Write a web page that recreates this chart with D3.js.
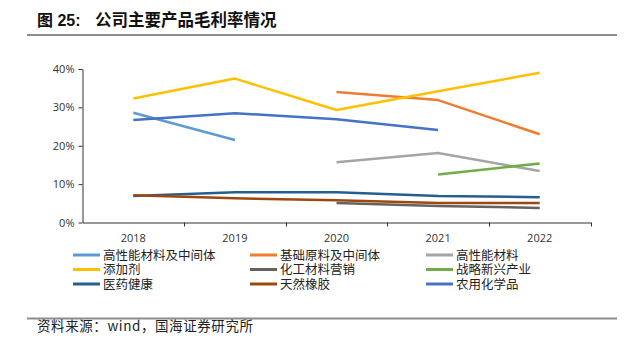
<!DOCTYPE html>
<html>
<head>
<meta charset="utf-8">
<script src="https://cdn.jsdelivr.net/npm/d3@7"></script>
<style>
  body { margin: 0; background: #fff; }
  svg { display: block; }
</style>
</head>
<body>
<script>
// categories and series (gross margin, %)
const YEARS = ['2018', '2019', '2020', '2021', '2022'];
const Y_TICKS = [0, 10, 20, 30, 40];

const HIGH_PERF_INTERMEDIATES = [28.6, 21.5, null, null, null];
const BASIC_MATERIALS = [null, null, 34.0, 31.9, 23.0];
const HIGH_PERF_MATERIALS = [null, null, 15.7, 18.1, 13.4];
const ADDITIVES = [32.3, 37.5, 29.3, 34.2, 39.0];
const CHEM_MARKETING = [null, null, 5.1, 4.3, 3.8];
const STRATEGIC_EMERGING = [null, null, null, 12.5, 15.4];
const PHARMA = [6.9, 7.9, 7.9, 6.9, 6.6];
const NATURAL_RUBBER = [7.1, 6.3, 5.8, 5.1, 5.1];
const AGROCHEMICALS = [26.7, 28.5, 26.9, 24.1, null];

const SERIES_NAMES = ['高性能材料及中间体', '基础原料及中间体', '高性能材料',
  '添加剂', '化工材料营销', '战略新兴产业', '医药健康', '天然橡胶', '农用化学品'];
const SERIES_VALUES = [HIGH_PERF_INTERMEDIATES, BASIC_MATERIALS, HIGH_PERF_MATERIALS,
  ADDITIVES, CHEM_MARKETING, STRATEGIC_EMERGING, PHARMA, NATURAL_RUBBER, AGROCHEMICALS];
const COLORS = ['#5b9bd5', '#ed7d31', '#a5a5a5', '#ffc000', '#636363',
  '#70ad47', '#255e91', '#9e480e', '#4472c4'];

const WIDTH = 628, HEIGHT = 348;
const CN = '"Noto Sans CJK SC", "Noto Sans", sans-serif';
const NUM = '"Open Sans", "Noto Sans", sans-serif';

const svg = d3.select('body').append('svg')
  .attr('width', WIDTH)
  .attr('height', HEIGHT);

// TITLE + RULES
const title = svg.append('text')
  .attr('y', 26)
  .style('font-weight', 'bold')
  .style('fill', '#111');
title.append('tspan')
  .attr('x', 37)
  .style('font-family', '"Liberation Sans", ' + CN)
  .style('font-size', '16px')
  .text('图 25:');
title.append('tspan')
  .attr('x', 95)
  .style('font-family', CN)
  .style('font-size', '16.5px')
  .text('公司主要产品毛利率情况');

svg.append('line')
  .attr('x1', 27).attr('x2', 617).attr('y1', 35).attr('y2', 35)
  .attr('stroke', '#8c8c8c').attr('stroke-width', 2);

svg.append('line')
  .attr('x1', 27).attr('x2', 617).attr('y1', 318.5).attr('y2', 318.5)
  .attr('stroke', '#8c8c8c').attr('stroke-width', 2);

svg.append('text')
  .attr('x', 37).attr('y', 330.5)
  .attr('textLength', 216)
  .attr('lengthAdjust', 'spacing')
  .style('font-family', CN)
  .style('font-size', '13.5px')
  .style('fill', '#222')
  .text('资料来源：wind，国海证券研究所');

// SCALES
const X_SCALE = d3.scaleBand().domain(YEARS).range([82.5, 590.5]);
const Y_SCALE = d3.scaleLinear().domain([0, 40]).range([222.5, 69]);

// X-AXIS
const xAxis = svg.append('g')
  .attr('transform', 'translate(0,' + 222.5 + ')')
  .call(d3.axisBottom(X_SCALE).tickSize(0).tickPadding(12));
xAxis.select('.domain').attr('stroke', '#333');
xAxis.selectAll('text')
  .style('font-family', NUM).style('font-size', '11px').style('fill', '#333');
// ticks sit on the band boundaries
xAxis.selectAll('.bound')
  .data(YEARS)
  .enter().append('line')
  .attr('x1', d => Math.round(X_SCALE(d) + X_SCALE.bandwidth()) + 0.5)
  .attr('x2', d => Math.round(X_SCALE(d) + X_SCALE.bandwidth()) + 0.5)
  .attr('y1', 0).attr('y2', 4)
  .attr('stroke', '#333');

// Y-AXIS
const yAxis = svg.append('g')
  .attr('transform', 'translate(' + 82.5 + ',0)')
  .call(d3.axisLeft(Y_SCALE).tickValues(Y_TICKS).tickSizeInner(4).tickSizeOuter(0)
    .tickPadding(4).tickFormat(d => d + '%'));
yAxis.select('.domain').attr('stroke', '#333');
yAxis.selectAll('.tick line').attr('stroke', '#333');
yAxis.selectAll('text')
  .style('font-family', NUM).style('font-size', '11px').style('fill', '#333');

// LINES
const line = d3.line()
  .defined(d => d != null)
  .x((d, i) => X_SCALE(YEARS[i]) + X_SCALE.bandwidth() / 2)
  .y(d => Y_SCALE(d));

svg.append('g').selectAll('path')
  .data(SERIES_VALUES)
  .enter().append('path')
  .attr('d', d => line(d))
  .attr('fill', 'none')
  .attr('stroke', (d, i) => COLORS[i])
  .attr('stroke-width', 2.5)
  .attr('stroke-linejoin', 'round');

// LEGEND (3 columns)
const COL_X = [73, 250, 426];
const ROW_Y = [255, 269.5, 284];
const legend = svg.append('g').selectAll('g')
  .data(SERIES_NAMES)
  .enter().append('g')
  .attr('transform', (d, i) => 'translate(' + COL_X[i % 3] + ',' + ROW_Y[Math.floor(i / 3)] + ')');

legend.append('line')
  .attr('x1', 0).attr('x2', 27).attr('y1', 0).attr('y2', 0)
  .attr('stroke', (d, i) => COLORS[i])
  .attr('stroke-width', 3);

legend.append('text')
  .attr('x', 30).attr('y', 0).attr('dy', '0.36em')
  .style('font-family', CN)
  .style('font-size', '12.5px')
  .style('fill', '#222')
  .text(d => d);
</script>
</body>
</html>
